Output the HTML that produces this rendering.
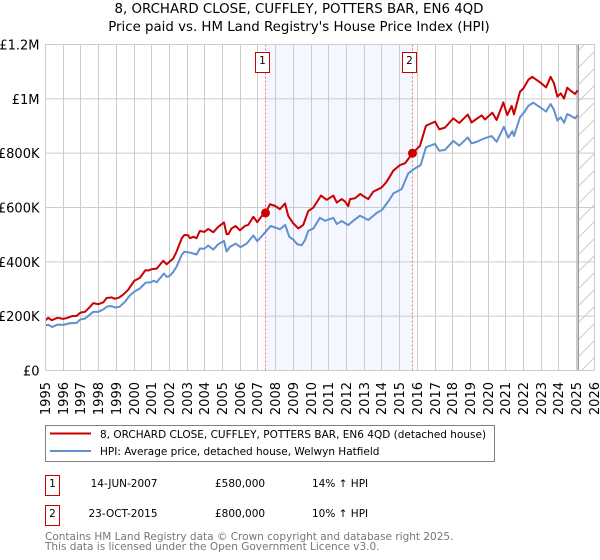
<!DOCTYPE html>
<html>
<head>
<meta charset="utf-8">
<title>8, ORCHARD CLOSE, CUFFLEY, POTTERS BAR, EN6 4QD</title>
<style>
html,body{margin:0;padding:0;background:#fff;width:600px;height:560px;overflow:hidden}
svg{display:block}
text{font-family:"DejaVu Sans","Liberation Sans",sans-serif;fill:#000}
</style>
</head>
<body>
<svg id="chart" width="600" height="560" viewBox="0 0 600 560" xmlns="http://www.w3.org/2000/svg">
  <defs>
    <pattern id="hatch" patternUnits="userSpaceOnUse" width="17" height="17">
      <path d="M-2 19L19 -2M-2 2L2 -2M15 19L19 15" stroke="#cccccc" stroke-width="1" fill="none"/>
    </pattern>
  </defs>
  <text x="299" y="13" text-anchor="middle" font-size="13.35">8, ORCHARD CLOSE, CUFFLEY, POTTERS BAR, EN6 4QD</text>
  <text x="299" y="31" text-anchor="middle" font-size="13.35">Price paid vs. HM Land Registry's House Price Index (HPI)</text>
  <g id="plot"></g>

  <g>
    <rect x="45.5" y="425.5" width="449" height="36" fill="#fff" stroke="#808080" stroke-width="1"/>
    <line x1="50" x2="91" y1="433.5" y2="433.5" stroke="#cc0000" stroke-width="2"/>
    <text x="100" y="438" font-size="10.5">8, ORCHARD CLOSE, CUFFLEY, POTTERS BAR, EN6 4QD (detached house)</text>
    <line x1="50" x2="91" y1="451" y2="451" stroke="#6090d0" stroke-width="2"/>
    <text x="100" y="455" font-size="10.5">HPI: Average price, detached house, Welwyn Hatfield</text>
  </g>

  <g>
    <rect x="45.5" y="475.5" width="14" height="20" fill="#fff" stroke="#cc0000" stroke-width="1"/>
    <text x="52.5" y="487" text-anchor="middle" font-size="10.5">1</text>
    <text x="157.5" y="487" text-anchor="end" font-size="10.5">14-JUN-2007</text>
    <text x="215" y="487" font-size="10.5">£580,000</text>
    <text x="312" y="487" font-size="10.5">14% ↑ HPI</text>
  </g>
  <g>
    <rect x="45.5" y="505.5" width="14" height="20" fill="#fff" stroke="#cc0000" stroke-width="1"/>
    <text x="52.5" y="517" text-anchor="middle" font-size="10.5">2</text>
    <text x="157.5" y="517" text-anchor="end" font-size="10.5">23-OCT-2015</text>
    <text x="215" y="517" font-size="10.5">£800,000</text>
    <text x="312" y="517" font-size="10.5">10% ↑ HPI</text>
  </g>
  <text x="45" y="540" font-size="10.5" style="fill:#777777">Contains HM Land Registry data © Crown copyright and database right 2025.</text>
  <text x="45" y="550" font-size="10.5" style="fill:#777777">This data is licensed under the Open Government Licence v3.0.</text>
</svg>
<script>
var yearTicks = [1995,1996,1997,1998,1999,2000,2001,2002,2003,2004,2005,2006,2007,2008,2009,2010,2011,2012,2013,2014,2015,2016,2017,2018,2019,2020,2021,2022,2023,2024,2025,2026];
var valueTicks = [0,200,400,600,800,1000,1200];
var valueTickLabels = ["£0","£200K","£400K","£600K","£800K","£1M","£1.2M"];

var priceYears = [1995,1995.16,1995.35,1995.67,1996.01,1996.2,1996.48,1996.76,1996.97,1997.23,1997.42,1997.7,1997.98,1998.27,1998.45,1998.74,1998.92,1999.17,1999.4,1999.68,2000.01,2000.33,2000.64,2000.81,2001,2001.28,2001.65,2001.84,2001.99,2002.21,2002.4,2002.69,2002.84,2003.06,2003.16,2003.35,2003.53,2003.72,2003.97,2004.19,2004.48,2004.76,2005.08,2005.23,2005.33,2005.51,2005.74,2005.98,2006.26,2006.45,2006.74,2006.96,2007.21,2007.43,2007.68,2007.96,2008.24,2008.53,2008.71,2008.99,2009.28,2009.56,2009.84,2010.13,2010.56,2010.88,2011.26,2011.45,2011.73,2011.92,2012.1,2012.2,2012.48,2012.78,2012.95,2013.23,2013.51,2013.99,2014.27,2014.65,2015.02,2015.31,2015.73,2016.15,2016.49,2017,2017.24,2017.56,2018.03,2018.37,2018.85,2019.07,2019.36,2019.64,2019.82,2020.24,2020.48,2020.86,2021.08,2021.33,2021.46,2021.8,2022,2022.27,2022.49,2022.93,2023.27,2023.53,2023.72,2023.91,2024.1,2024.29,2024.47,2024.66,2024.91,2025.06];
var priceValues = [185,194,185,194,190,193,200,201,213,216,228,248,244,251,267,269,264,269,280,298,330,341,369,368,373,375,404,391,400,412,437,486,499,498,487,492,487,514,510,521,509,529,545,502,502,523,532,516,532,536,566,546,568,580,612,606,594,615,569,542,523,536,587,600,644,628,644,618,631,622,605,631,634,650,642,631,658,674,695,736,756,763,800,827,901,916,888,894,928,911,942,913,927,939,924,949,922,987,940,974,943,1026,1039,1070,1081,1061,1042,1081,1057,1008,1020,1001,1041,1030,1018,1031];

var hpiYears = [1995,1995.16,1995.39,1995.67,1996.01,1996.38,1996.76,1996.97,1997.23,1997.51,1997.7,1997.98,1998.27,1998.49,1998.74,1998.92,1999.17,1999.49,1999.77,2000.01,2000.33,2000.67,2000.9,2001.13,2001.28,2001.69,2001.84,2001.99,2002.21,2002.4,2002.69,2002.84,2003.16,2003.53,2003.72,2003.97,2004.19,2004.48,2004.76,2005.08,2005.23,2005.42,2005.74,2006.02,2006.36,2006.74,2006.96,2007.43,2007.71,2008.24,2008.54,2008.77,2008.99,2009.22,2009.47,2009.66,2009.84,2010.13,2010.5,2010.79,2011.26,2011.45,2011.73,2012.1,2012.38,2012.76,2013.23,2013.71,2013.99,2014.36,2014.65,2015.12,2015.49,2015.87,2016.19,2016.49,2017,2017.24,2017.56,2018.03,2018.37,2018.85,2019.07,2019.36,2019.82,2020.2,2020.48,2020.89,2021.14,2021.37,2021.46,2021.8,2022.03,2022.27,2022.55,2022.93,2023.27,2023.53,2023.72,2023.91,2024.1,2024.29,2024.47,2024.66,2024.91,2025.06];
var hpiValues = [167,168,160,169,168,174,175,188,191,206,216,216,225,236,237,232,234,253,277,290,302,324,324,330,325,357,345,347,362,382,425,437,434,427,449,448,460,445,465,477,438,455,467,454,467,497,476,510,532,520,536,492,482,465,461,480,514,523,562,551,562,539,550,535,551,570,554,580,590,622,652,668,726,744,756,822,834,809,812,845,828,858,836,842,855,863,842,897,857,881,863,932,950,974,986,969,953,981,959,920,932,912,944,938,928,940];

var saleYears = [2007.43,2015.73];
var saleValues = [580,800];
var saleLabels = ["1","2"];
var forecastStartYear = 2025.09;

var NS = "http://www.w3.org/2000/svg";
var plot = document.getElementById("plot");
function xScale(year){ return 45.5 + (year - 1995) * 17.705; }
function yScale(value){ return 370.5 - value * 326 / 1200; }
function crisp(v){ return Math.floor(v) + 0.5; }
function make(tag, attrs, parent){
  var el = document.createElementNS(NS, tag);
  for (var k in attrs) el.setAttribute(k, attrs[k]);
  (parent || plot).appendChild(el);
  return el;
}
function pathFrom(years, values){
  var d = "";
  for (var i = 0; i < years.length; i++){
    d += (i ? "L" : "M") + xScale(years[i]).toFixed(2) + " " + yScale(values[i]).toFixed(2);
  }
  return d;
}

var left = xScale(yearTicks[0]);
var right = crisp(xScale(yearTicks[yearTicks.length - 1]));
var top_ = yScale(1200);
var bottom = yScale(0);

var band = make("rect", {x: xScale(saleYears[0]), y: top_, width: xScale(saleYears[1]) - xScale(saleYears[0]), height: bottom - top_, fill: "#f4f7ff"});



var hatch = make("rect", {x: xScale(forecastStartYear), y: top_, width: right - xScale(forecastStartYear), height: bottom - top_, fill: "url(#hatch)"});



yearTicks.forEach(function(year){
  var px = crisp(xScale(year));
  var line = make("line", {x1: px, x2: px, y1: top_, y2: bottom, stroke: "#cccccc", "stroke-width": 1});
  
  
  var label = make("text", {transform: "translate(" + (px + 4.5) + ",382) rotate(-90)", "text-anchor": "end", "font-size": 13});
  label.textContent = year;
  
  
});

valueTicks.forEach(function(value, i){
  var py = yScale(value);
  var line = make("line", {x1: left, x2: right, y1: py, y2: py, stroke: "#cccccc", "stroke-width": 1});
  
  
  var label = make("text", {x: 39.5, y: py + 5, "text-anchor": "end", "font-size": 13});
  label.textContent = valueTickLabels[i];
  
  
});

var forecastLine = make("line", {x1: xScale(forecastStartYear), x2: xScale(forecastStartYear), y1: top_, y2: bottom, stroke: "#999999", "stroke-width": 1.5});



saleYears.forEach(function(year, i){
  var px = crisp(xScale(year));
  var line = make("line", {x1: px, x2: px, y1: top_, y2: bottom, stroke: "#f07070", "stroke-width": 1, "stroke-dasharray": "2 2"});
  
  
});

var hpiLine = make("path", {d: pathFrom(hpiYears, hpiValues), fill: "none", stroke: "#6090d0", "stroke-width": 2, "stroke-linejoin": "round"});



var priceLine = make("path", {d: pathFrom(priceYears, priceValues), fill: "none", stroke: "#cc0000", "stroke-width": 2, "stroke-linejoin": "round"});



saleYears.forEach(function(year, i){
  var px = crisp(xScale(year));
  var dot = make("circle", {cx: px, cy: yScale(saleValues[i]), r: 4.5, fill: "#cc0000"});
  
  
  var box = make("rect", {x: px - 10, y: 52.5, width: 14, height: 20, fill: "#fff", stroke: "#cc0000", "stroke-width": 1});
  
  
  var label = make("text", {x: px - 3, y: 64, "text-anchor": "middle", "font-size": 10.5});
  label.textContent = saleLabels[i];
  
  
});

var border = make("rect", {x: left, y: top_, width: right - left, height: bottom - top_, fill: "none", stroke: "#cccccc", "stroke-width": 1});


</script>
</body>
</html>
